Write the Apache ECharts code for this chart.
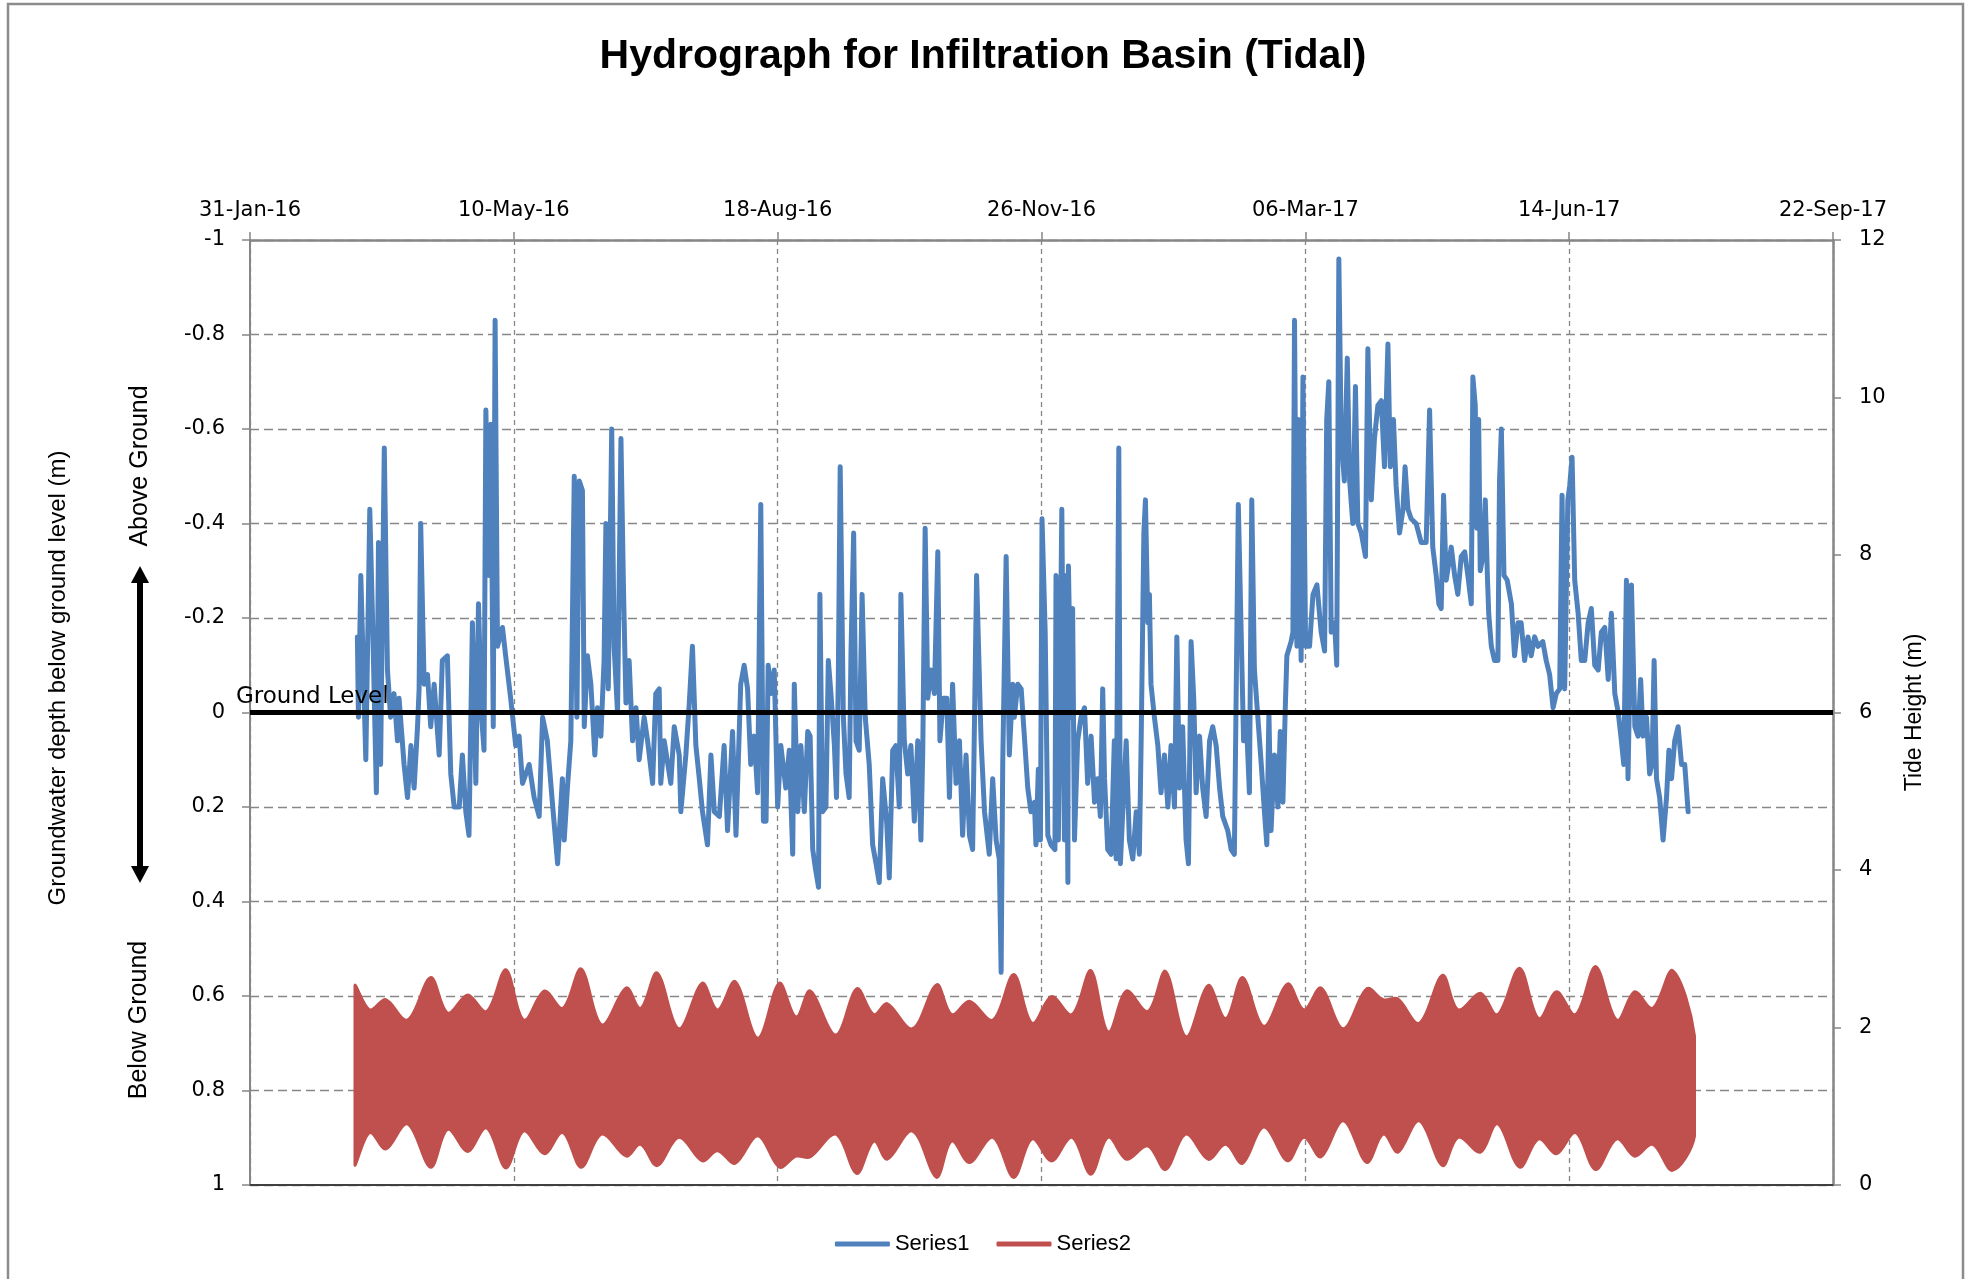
<!DOCTYPE html>
<html>
<head>
<meta charset="utf-8">
<title>Hydrograph for Infiltration Basin (Tidal)</title>
<script src="https://cdn.jsdelivr.net/npm/echarts@6/dist/echarts.min.js"></script>
<style>
  html, body { margin: 0; padding: 0; background: #fff; }
  #chart { width: 1966px; height: 1279px; }
</style>
</head>
<body>
<div id="chart"></div>
<script>
// x values are days counted from 31-Jan-16
var dateLabels = ['31-Jan-16', '10-May-16', '18-Aug-16', '26-Nov-16', '06-Mar-17', '14-Jun-17', '22-Sep-17'];

// groundwater depth below ground level (m), [day, depth]
var groundwater = [
  [40.7,-0.16],[41.1,0.01],[42.0,-0.29],[43.9,0.10],[45.4,-0.43],[46.4,-0.21],[47.9,0.17],[48.7,-0.36],[49.5,0.11],[50.9,-0.56],
  [52.1,-0.09],[53.3,0.01],[54.6,-0.04],[55.9,0.06],[56.5,-0.03],[58.4,0.11],[59.7,0.18],[61.0,0.07],[62.2,0.16],[63.5,0.03],
  [64.1,-0.05],[64.7,-0.40],[66.0,-0.06],[67.3,-0.08],[68.5,0.03],[69.8,-0.06],[71.7,0.09],[72.9,-0.11],[74.8,-0.12],[76.1,0.13],
  [77.4,0.20],[79.3,0.20],[80.5,0.09],[81.8,0.21],[83.0,0.26],[84.3,-0.19],[85.6,0.15],[86.6,-0.23],[87.8,0.01],[88.7,0.08],
  [89.4,-0.64],[90.6,-0.29],[91.3,-0.61],[92.2,0.03],[92.9,-0.83],[93.8,-0.14],[95.7,-0.18],[96.9,-0.12],[98.8,-0.03],[100.7,0.07],
  [102.0,0.05],[103.3,0.15],[105.8,0.11],[107.7,0.18],[109.6,0.22],[110.9,0.01],[112.7,0.06],[114.6,0.19],[116.6,0.32],[118.4,0.14],
  [119.1,0.27],[120.3,0.16],[121.6,0.06],[122.9,-0.50],[123.9,0.01],[124.8,-0.49],[126.0,-0.47],[126.7,0.03],[127.9,-0.12],[129.2,-0.06],
  [130.7,0.09],[131.7,-0.01],[133.0,0.05],[134.2,-0.11],[134.9,-0.40],[135.8,-0.05],[137.1,-0.60],[138.0,-0.14],[139.3,0.00],[140.6,-0.58],
  [141.6,-0.25],[142.5,-0.02],[143.7,-0.11],[145.0,0.06],[146.3,-0.01],[147.5,0.10],[149.4,0.01],[150.7,0.06],[152.6,0.15],[153.8,-0.04],
  [155.1,-0.05],[155.7,0.15],[157.0,0.06],[159.5,0.15],[160.8,0.03],[162.7,0.09],[163.3,0.21],[165.2,0.09],[166.5,-0.02],[167.7,-0.14],
  [169.0,0.07],[170.3,0.14],[171.5,0.21],[173.4,0.28],[174.7,0.09],[176.0,0.21],[177.9,0.22],[179.7,0.07],[181.0,0.25],[182.9,0.04],
  [184.2,0.26],[186.0,-0.06],[187.3,-0.10],[188.6,-0.05],[189.8,0.11],[191.1,0.05],[192.4,0.17],[193.6,-0.44],[194.6,0.23],[195.6,0.23],
  [196.4,-0.10],[197.4,-0.04],[198.7,-0.09],[200.0,0.20],[201.2,0.07],[203.1,0.16],
  [204.4,0.08],[205.7,0.30],[206.3,-0.06],[207.6,0.21],[208.8,0.07],[210.1,0.21],[211.4,0.04],[212.3,0.05],[213.3,0.29],[214.3,0.33],
  [215.5,0.37],[216.0,-0.25],[217.0,0.21],[218.3,0.20],[219.2,-0.11],[220.2,-0.04],[221.5,0.07],[222.3,0.18],[223.0,-0.08],[223.7,-0.52],
  [224.9,0.01],[225.9,0.13],[227.1,0.18],[227.8,-0.13],[228.8,-0.38],[229.7,0.06],[230.9,0.08],[232.0,-0.25],[233.2,0.01],[234.7,0.11],
  [236.0,0.28],[237.3,0.32],[238.5,0.36],[239.8,0.14],[241.3,0.23],[242.3,0.35],[243.6,0.08],[244.8,0.07],[246.1,0.20],[246.7,-0.25],
  [248.0,0.06],[249.3,0.13],[250.5,0.07],[251.8,0.23],[253.1,0.06],[254.3,0.27],[255.0,0.08],[255.9,-0.39],[256.9,-0.03],[258.1,-0.09],
  [259.4,-0.04],[260.7,-0.34],[261.5,0.06],[262.8,-0.03],[264.1,-0.03],[265.1,0.18],[266.3,-0.06],[267.6,0.15],[268.9,0.06],[270.1,0.26],
  [271.4,0.09],[272.7,0.26],[273.9,0.29],[275.4,-0.29],[277.1,0.06],[278.4,0.21],[280.2,0.30],[281.5,0.14],[282.8,0.27],[284.0,0.31],
  [284.7,0.55],[285.3,0.11],[286.6,-0.33],[287.8,0.09],[289.1,-0.06],
  [289.7,0.01],[291.0,-0.06],[292.3,-0.05],[293.5,0.05],[294.8,0.16],[296.0,0.21],[297.3,0.19],[297.9,0.28],[298.8,0.12],[299.6,0.27],
  [300.2,-0.41],[301.4,-0.17],[302.4,0.26],[303.6,0.28],[305.1,0.29],[305.5,-0.29],[306.4,0.27],[307.7,-0.43],[308.7,0.27],[309.3,-0.29],
  [310.0,0.36],[310.2,-0.31],[311.2,0.01],[311.8,-0.22],[312.5,0.27],[313.7,0.06],[315.0,0.01],[316.3,-0.01],[317.5,0.15],[318.8,0.05],
  [320.1,0.19],[321.3,0.14],[322.3,0.22],[323.2,-0.05],[323.9,0.14],[325.1,0.29],[326.4,0.30],[327.6,0.06],[328.3,0.31],[329.3,-0.56],
  [329.9,0.32],[330.8,0.21],[332.1,0.06],[333.3,0.27],[334.6,0.31],[335.9,0.21],[337.1,0.30],[337.8,0.05],[338.8,-0.38],[339.4,-0.45],
  [340.3,-0.19],[340.9,-0.25],[341.5,-0.06],[342.8,0.01],[344.1,0.07],[345.3,0.17],[346.6,0.09],[347.9,0.20],[349.1,0.07],[350.4,0.20],
  [351.3,-0.16],[352.3,0.16],[353.5,0.03],[354.8,0.27],[355.7,0.32],[356.7,-0.15],[357.7,-0.03],[358.6,0.17],[359.9,0.05],[361.1,0.16],
  [362.4,0.22],[363.7,0.06],[364.9,0.03],[366.2,0.07],[367.5,0.16],[368.7,0.22],[370.6,0.25],[371.9,0.29],[373.1,0.30],[374.6,-0.44],
  [376.6,0.06],[377.6,0.01],[378.8,0.17],[379.7,-0.45],[380.7,-0.09],[382.0,0.01],[383.3,0.11],[384.5,0.21],[385.4,0.28],[386.2,0.00],
  [387.0,0.25],[388.3,0.09],[389.6,0.20],[390.5,0.04],[391.5,0.19],[392.4,-0.01],[393.0,-0.12],[394.6,-0.15],[395.3,-0.17],[395.9,-0.83],
  [396.8,-0.14],[397.4,-0.62],[398.4,-0.11],[399.1,-0.71],[400.1,-0.14],[401.6,-0.14],[402.9,-0.25],[404.4,-0.27],[406.0,-0.17],[407.3,-0.13],
  [408.1,-0.62],[408.9,-0.70],[409.8,-0.17],[411.1,-0.19],[411.9,-0.10],[412.7,-0.96],[413.6,-0.58],[414.8,-0.49],[415.9,-0.75],[416.8,-0.49],
  [418.0,-0.40],[419.0,-0.69],[419.9,-0.40],[421.2,-0.38],[422.8,-0.33],[423.7,-0.77],[425.0,-0.45],[426.2,-0.58],[427.5,-0.65],[428.8,-0.66],
  [430.0,-0.52],[431.3,-0.78],[432.2,-0.52],[433.4,-0.62],[434.4,-0.48],[435.7,-0.38],[437.0,-0.43],[437.8,-0.52],[438.9,-0.43],[440.1,-0.41],
  [442.0,-0.40],[443.9,-0.36],[445.8,-0.36],[447.1,-0.64],[448.3,-0.35],[449.6,-0.29],[450.6,-0.23],[451.5,-0.22],[452.4,-0.46],[453.4,-0.28],
  [455.3,-0.35],[456.6,-0.29],[457.8,-0.25],[459.1,-0.33],
  [460.4,-0.34],[461.6,-0.29],[462.9,-0.23],[463.5,-0.71],[464.4,-0.65],[465.0,-0.39],[465.7,-0.62],[466.3,-0.30],[467.3,-0.33],[468.2,-0.45],
  [469.0,-0.29],[469.5,-0.21],[470.5,-0.14],[471.7,-0.11],[473.0,-0.11],[473.6,-0.49],[474.3,-0.60],[475.3,-0.29],[476.5,-0.28],[478.1,-0.23],
  [479.3,-0.12],[480.6,-0.19],[481.8,-0.19],[483.1,-0.11],[484.4,-0.16],[485.6,-0.12],[486.9,-0.16],[488.2,-0.14],[490.0,-0.15],[491.3,-0.11],
  [492.6,-0.08],[493.9,-0.01],[495.1,-0.04],[496.4,-0.05],[497.3,-0.46],[498.3,-0.05],[499.5,-0.45],[500.2,-0.48],[501.1,-0.54],[502.1,-0.28],
  [503.4,-0.21],[504.6,-0.11],[505.9,-0.11],[507.2,-0.19],[508.4,-0.22],[509.7,-0.10],[511.0,-0.09],[512.2,-0.17],[513.5,-0.18],[514.8,-0.07],
  [516.0,-0.21],[517.3,-0.04],[518.6,0.00],[519.8,0.06],[520.7,0.11],[521.7,-0.28],[522.3,0.14],[523.6,-0.27],[524.9,0.03],[526.1,0.05],
  [527.1,-0.07],[528.0,0.05],[529.3,0.01],[530.5,0.13],[531.4,0.11],[532.2,-0.11],[533.1,0.14],[534.3,0.18],[535.6,0.27],[536.9,0.18],
  [537.8,0.08],[538.8,0.14],[540.0,0.06],[541.3,0.03],[542.6,0.11],[543.8,0.11],[545.1,0.21]
];

// tide height envelope (m): spring / neap extremes
var tideDay = [39.6, 45.4, 51.5, 59.6, 68.5, 75, 82.5, 89.6, 97, 103.8,
  111.6, 118.5, 125.5, 133.4, 142.6, 148, 154.3, 162.6, 171.4, 177.2,
  183.9, 192.5, 200.6, 207, 212.3, 222, 230, 236.5, 241.5, 251,
  260.3, 266, 272.7, 281.5, 289.5, 296.5, 303.8, 311.5, 318.7, 325.3,
  332.2, 340.3, 347, 354.8, 363.2, 369.8, 376.2, 384.3, 393.3, 399.5,
  405.9, 414.4, 423.3, 429.6, 435.1, 443.1, 452, 458, 466.4, 472.8,
  481.2, 488.5, 495.2, 502.4, 510, 518.1, 524.8, 531.6, 539.2, 547.7];
var tideHigh = [2.53, 2.23, 2.36, 2.10, 2.64, 2.19, 2.42, 2.21, 2.74, 2.10,
  2.47, 2.25, 2.75, 2.04, 2.51, 2.25, 2.70, 1.99, 2.57, 2.23,
  2.59, 1.87, 2.57, 2.14, 2.47, 1.91, 2.50, 2.17, 2.31, 1.99,
  2.55, 2.17, 2.34, 2.10, 2.68, 2.06, 2.40, 2.17, 2.73, 1.95,
  2.47, 2.21, 2.72, 1.89, 2.54, 2.12, 2.64, 2.02, 2.56, 2.23,
  2.51, 1.99, 2.50, 2.36, 2.37, 2.06, 2.67, 2.23, 2.44, 2.17,
  2.76, 2.12, 2.46, 2.17, 2.78, 2.10, 2.46, 2.25, 2.73, 1.89];
var tideLow = [0.26, 0.66, 0.45, 0.77, 0.22, 0.70, 0.42, 0.72, 0.21, 0.68,
  0.39, 0.66, 0.22, 0.64, 0.36, 0.51, 0.24, 0.60, 0.30, 0.43,
  0.27, 0.62, 0.22, 0.36, 0.35, 0.64, 0.14, 0.55, 0.32, 0.68,
  0.09, 0.55, 0.28, 0.60, 0.09, 0.58, 0.30, 0.60, 0.13, 0.60,
  0.32, 0.49, 0.19, 0.64, 0.32, 0.51, 0.27, 0.73, 0.30, 0.60,
  0.35, 0.81, 0.28, 0.64, 0.41, 0.81, 0.24, 0.60, 0.41, 0.77,
  0.22, 0.58, 0.39, 0.66, 0.19, 0.58, 0.36, 0.51, 0.18, 0.62];

var blue = '#4F81BD';
var red = '#C0504D';
var gridGrey = '#878787';
var axisGrey = '#868686';

var tideData = tideDay.map(function (d, i) { return [d, tideHigh[i], tideLow[i]]; });

// the tide record is too dense to show single cycles, so draw its high/low band
function renderTideBand(params, api) {
  if (params.dataIndexInside !== 0) return null;
  var n = params.dataInsideLength;
  var top = [], bottom = [];
  for (var i = 0; i < n; i++) {
    var d = api.value(0, i);
    top.push(api.coord([d, api.value(1, i)]));
    bottom.push(api.coord([d, api.value(2, i)]));
  }
  var pts = top.concat(bottom.reverse());
  var x0 = Infinity, y0 = Infinity, x1 = -Infinity, y1 = -Infinity;
  pts.forEach(function (p) {
    x0 = Math.min(x0, p[0]); x1 = Math.max(x1, p[0]);
    y0 = Math.min(y0, p[1]); y1 = Math.max(y1, p[1]);
  });
  return {
    type: 'polygon',
    shape: { points: pts, smooth: 0.35, smoothConstraint: [[x0, y0], [x1, y1]] },
    style: { fill: red, stroke: red, lineWidth: 2 }
  };
}

var chart = echarts.init(document.getElementById('chart'));

var option = {
  animation: false,
  backgroundColor: '#fff',
  title: {
    text: 'Hydrograph for Infiltration Basin (Tidal)',
    left: 'center',
    top: 31,
    textStyle: { fontFamily: 'Liberation Sans', fontSize: 41, fontWeight: 'bold', color: '#000' }
  },
  legend: {
    data: ['Series1', 'Series2'],
    left: 'center',
    top: 1228,
    icon: 'roundRect',
    itemWidth: 55,
    itemHeight: 5,
    itemGap: 27,
    textStyle: { fontFamily: 'Liberation Sans', fontSize: 22, color: '#000' }
  },
  grid: { left: 250, right: 133, top: 240, bottom: 94, outerBoundsMode: 'none' },
  xAxis: [{
    type: 'value',
    position: 'top',
    min: 0,
    max: 600,
    interval: 100,
    axisLine: { onZero: false, lineStyle: { color: axisGrey, width: 2.5 } },
    axisTick: { show: true, length: 8, lineStyle: { color: axisGrey, width: 1.5 } },
    axisLabel: {
      margin: 19, color: '#000', fontFamily: 'DejaVu Sans', fontSize: 21,
      formatter: function (v) { return dateLabels[Math.round(v / 100)]; }
    },
    splitLine: { show: true, lineStyle: { color: gridGrey, width: 1.3, type: [5, 4] } }
  }, {
    type: 'value',
    position: 'bottom',
    min: 0,
    max: 600,
    axisLine: { onZero: false, lineStyle: { color: '#404040', width: 2 } },
    axisTick: { show: false },
    axisLabel: { show: false },
    splitLine: { show: false }
  }],
  yAxis: [{
    type: 'value',
    position: 'left',
    inverse: true,
    min: -1,
    max: 1,
    interval: 0.2,
    axisLine: { show: true, onZero: false, lineStyle: { color: axisGrey, width: 2 } },
    axisTick: { show: true, length: 8, lineStyle: { color: axisGrey, width: 1.5 } },
    axisLabel: { margin: 25, color: '#000', fontFamily: 'DejaVu Sans', fontSize: 21 },
    splitLine: { show: true, lineStyle: { color: gridGrey, width: 1.3, type: [9, 5] } }
  }, {
    type: 'value',
    position: 'right',
    min: 0,
    max: 12,
    interval: 2,
    name: 'Tide Height (m)',
    nameLocation: 'middle',
    nameRotate: 90,
    nameGap: 70,
    nameTextStyle: { fontFamily: 'Liberation Sans', fontSize: 23, color: '#000' },
    axisLine: { show: true, onZero: false, lineStyle: { color: axisGrey, width: 2.5 } },
    axisTick: { show: true, length: 8, lineStyle: { color: axisGrey, width: 1.5 } },
    axisLabel: { margin: 26, color: '#000', fontFamily: 'DejaVu Sans', fontSize: 21 },
    splitLine: { show: false }
  }],
  series: [{
    name: 'Series2',
    type: 'custom',
    coordinateSystem: 'cartesian2d',
    xAxisIndex: 0,
    yAxisIndex: 1,
    data: tideData,
    encode: { x: 0, y: [1, 2] },
    renderItem: renderTideBand,
    silent: true,
    itemStyle: { color: red }
  }, {
    name: 'Series1',
    type: 'line',
    xAxisIndex: 0,
    yAxisIndex: 0,
    data: groundwater,
    symbol: 'none',
    silent: true,
    lineStyle: { color: blue, width: 5, join: 'round', cap: 'round' },
    itemStyle: { color: blue },
    markLine: {
      silent: true,
      symbol: ['none', 'none'],
      label: { show: false },
      lineStyle: { color: '#000', width: 5, type: 'solid' },
      data: [{ yAxis: 0 }]
    }
  }],
  graphic: [
    { type: 'rect', silent: true, z: -10, shape: { x: 8, y: 4, width: 1955, height: 1300 },
      style: { fill: 'none', stroke: '#8c8c8c', lineWidth: 2.5 } },
    { type: 'text', x: 58, y: 678, rotation: Math.PI / 2,
      style: { text: 'Groundwater depth below ground level (m)', font: '24px "Liberation Sans"', fill: '#000', align: 'center', verticalAlign: 'middle' } },
    { type: 'text', x: 140, y: 466, rotation: Math.PI / 2,
      style: { text: 'Above Ground', font: '25px "Liberation Sans"', fill: '#000', align: 'center', verticalAlign: 'middle' } },
    { type: 'text', x: 139, y: 1020, rotation: Math.PI / 2,
      style: { text: 'Below Ground', font: '25px "Liberation Sans"', fill: '#000', align: 'center', verticalAlign: 'middle' } },
    { type: 'line', shape: { x1: 140, y1: 578, x2: 140, y2: 871 }, style: { stroke: '#000', lineWidth: 6 } },
    { type: 'polygon', shape: { points: [[140, 566], [131, 583], [149, 583]] }, style: { fill: '#000' } },
    { type: 'polygon', shape: { points: [[140, 883], [131, 866], [149, 866]] }, style: { fill: '#000' } },
    { type: 'text', x: 236, y: 709, z: 10,
      style: { text: 'Ground Level', font: '23px "DejaVu Sans"', fill: '#000', align: 'left', verticalAlign: 'bottom' } }
  ]
};

chart.setOption(option);
</script>
</body>
</html>
